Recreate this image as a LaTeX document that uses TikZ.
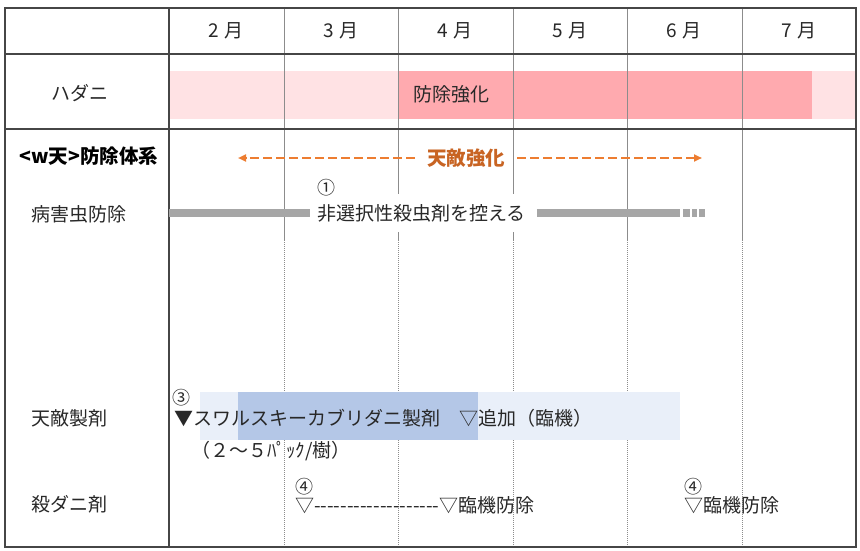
\documentclass[tikz,border=0pt]{standalone}
\usepackage{fontspec}
\setmainfont{Noto Sans CJK JP}[Ligatures=TeXOff]
\usepackage{xcolor}
\usetikzlibrary{arrows.meta}
\definecolor{pinklight}{RGB}{255,226,228}
\definecolor{pinkdark}{RGB}{255,170,175}
\definecolor{bluelight}{RGB}{233,239,249}
\definecolor{bluedark}{RGB}{180,199,231}
\definecolor{orangearrow}{RGB}{237,125,49}
\definecolor{orangetext}{RGB}{200,100,35}
\definecolor{bargray}{RGB}{166,166,166}
\definecolor{gridgray}{RGB}{140,140,140}
\definecolor{framegray}{RGB}{70,70,70}
\definecolor{textgray}{RGB}{40,40,40}

\begin{document}
\begin{tikzpicture}[x=1pt,y=-1pt,
            lbl/.style = {text=textgray,
            font=\fontsize{19}{21}\selectfont,
            inner sep=1pt},
            rowlbl/.style = {lbl, anchor=west},
            num/.style = {text=textgray,
            font=\fontsize{18}{19}\selectfont,
            inner sep=0pt, anchor=west},
            frame/.style = {framegray, line width=1.4pt},
            grid/.style = {gridgray, line width=0.9pt},
            pestbar/.style = {bargray, line width=8pt},
            enemy/.style = {orangearrow, line width=2.6pt,
            dash pattern=on 9pt off 4pt,
            -{Triangle[length=8pt,width=7pt]}}]
        \useasboundingbox (0,0) rectangle (860,551);

        % Mite pressure bars
        \fill[pinklight] (169,71) rectangle (856,119);
        \fill[pinkdark] (398,71) rectangle (812,119);

        % Month grid
        \foreach \x in {284,398,513,627,742} {
            \draw[grid] (\x,8) -- (\x,240);
            \draw[grid, dash pattern=on 1pt off 1pt] (\x,240) -- (\x,547);
        }

        % Natural enemy release bars
        \fill[bluelight] (200,392) rectangle (680,440);
        \fill[bluedark] (238,392) rectangle (478,440);

        % Table frame
        \draw[frame] (5,8) rectangle (856,547);
        \draw[frame] (5,54) -- (856,54);
        \draw[frame] (5,129) -- (856,129);
        \draw[frame] (169,8) -- (169,547);

        % Month labels
        \foreach \m [count=\i] in {2,...,7}
            \node[lbl] (m\m) at ({169+114.5*(\i-0.5)},31) {\m\hspace{5pt}月};

        % Row labels
        \node[rowlbl] (hadani) at (50,93) {ハダニ};
        \node[lbl, text=black,
              font=\bfseries\fontsize{19.5}{21}\selectfont] (system) at (89,156) {<w天>防除体系};
        \node[rowlbl] (pest) at (30,214) {病害虫防除};
        \node[rowlbl] (agent) at (30,418) {天敵製剤};
        \node[rowlbl] (acaricide) at (30,504) {殺ダニ剤};

        % Mite row
        \node[rowlbl] (strong) at (412,94) {防除強化};

        % Natural enemy arrow
        \node[text=orangetext, inner xsep=12pt,
              font=\bfseries\fontsize{19.5}{21}\selectfont] (tenteki) at (466,158) {天敵強化};
        \coordinate (enemyL) at (238,158);
        \coordinate (enemyR) at (702,158);
        \draw[enemy] (tenteki.west) -- (enemyL);
        \draw[enemy] (tenteki.east) -- (enemyR);

        % Pest control row
        \node[lbl, fill=white, anchor=west, minimum height=38pt] (nonsel) at (316,213) {非選択性殺虫剤を控える};
        \node[num] (c1) at (317,188) {①};
        \coordinate (barL) at (169,213);
        \coordinate (barR) at (680,213);
        \coordinate (barEnd) at (705,213);
        \draw[pestbar] (barL) -- ([xshift=-6pt]nonsel.west);
        \draw[pestbar] ([xshift=10pt]nonsel.east) -- (barR);
        \draw[pestbar, dash pattern=on 7pt off 2pt on 5pt off 2pt on 6pt off 9pt] ([xshift=3pt]barR) -- (barEnd);

        % Natural enemy products row
        \node[num] (c3) at (172,398) {③};
        \node[rowlbl] (swirskii) at (173,418) {▼スワルスキーカブリダニ製剤　▽追加（臨機）};
        \node[rowlbl] (pack) at (190,451) {（２～５ﾊﾟｯｸ/樹）};

        % Acaricide row
        \node[num] (c4a) at (295,487) {④};
        \node[rowlbl] (spray1) at (294,505) {▽-------------------▽臨機防除};
        \node[num] (c4b) at (684,487) {④};
        \node[rowlbl] (spray2) at (683,505) {▽臨機防除};
    \end{tikzpicture}
\end{document}
